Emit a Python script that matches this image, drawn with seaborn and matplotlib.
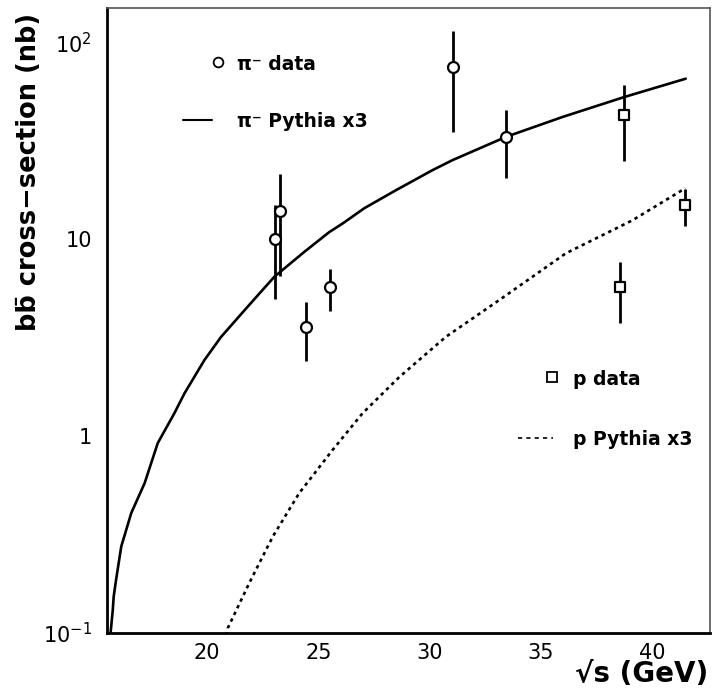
import numpy as np
import pandas as pd
import matplotlib
matplotlib.use("Agg")
import matplotlib.pyplot as plt
import matplotlib.ticker as mticker
import seaborn as sns

# ---------------- data ----------------
pi_x = [23.04, 23.26, 24.45, 25.54, 31.05, 33.45]
pi_y = [10.0, 14.0, 3.6, 5.7, 75.0, 33.0]
pi_lo = [5.0, 7.5, 1.2, 1.37, 40.0, 12.5]
pi_hi = [5.0, 7.5, 1.2, 1.37, 40.0, 12.5]

p_x = [38.75, 38.55, 41.46]
p_y = [43.0, 5.7, 15.0]
p_lo = [18.0, 1.95, 3.3]
p_hi = [18.0, 1.95, 3.1]

pi_curve_x = [15.64, 15.66, 15.76, 15.80, 15.91, 16.14, 16.59, 17.19, 17.78,
              18.53, 18.98, 19.88, 20.63, 21.82, 23.02, 24.37, 25.49, 26.09,
              27.06, 28.49, 30.13, 31.03, 33.43, 35.97, 38.74, 41.51]
pi_curve_y = [0.09, 0.10, 0.131, 0.153, 0.187, 0.275, 0.407, 0.577, 0.922,
              1.31, 1.65, 2.44, 3.20, 4.55, 6.46, 8.65, 10.9, 12.05,
              14.4, 17.8, 22.5, 25.3, 33.2, 41.9, 52.9, 65.6]

p_curve_x = [20.88, 20.93, 21.9, 22.95, 24.14, 25.64, 26.99, 28.64, 30.73,
             33.13, 36.12, 39.11, 41.49]
p_curve_y = [0.097, 0.106, 0.18, 0.309, 0.514, 0.852, 1.31, 2.0, 3.2,
             4.92, 8.5, 12.5, 18.2]

y_ticks = [0.1, 1, 10, 100]
y_tick_labels = [r"$10^{-1}$", "1", "10", r"$10^{2}$"]
x_ticks = [20, 25, 30, 35, 40]

# ---------------- figure ----------------
sns.set_style("white")
plt.rcParams['font.family'] = ['DejaVu Sans']
plt.rcParams['mathtext.fontset'] = 'dejavusans'
for k in ["text.color", "axes.labelcolor", "xtick.color", "ytick.color",
          "xtick.labelcolor", "ytick.labelcolor"]:
    plt.rcParams[k] = "black"

W, H = 713, 693
fig = plt.figure(figsize=(W / 100, H / 100), dpi=100)
L, R, T, B = 107, 710, 8, 633
ax = fig.add_axes([L / W, 1 - B / H, (R - L) / W, (B - T) / H])

df_pi = pd.DataFrame({"x": pi_curve_x, "y": pi_curve_y})
df_p = pd.DataFrame({"x": p_curve_x, "y": p_curve_y})
sns.lineplot(data=df_pi, x="x", y="y", ax=ax, color="black", lw=1.9,
             sort=False, estimator=None)
sns.lineplot(data=df_p, x="x", y="y", ax=ax, color="black", lw=1.9,
             sort=False, estimator=None, linestyle=(0, (1.3, 1.5)))

ax.errorbar(pi_x, pi_y, yerr=[pi_lo, pi_hi], fmt="none", ecolor="black",
            elinewidth=2.0, capsize=0, zorder=3)
ax.errorbar(p_x, p_y, yerr=[p_lo, p_hi], fmt="none", ecolor="black",
            elinewidth=2.0, capsize=0, zorder=3)
sns.scatterplot(x=pi_x, y=pi_y, ax=ax, marker="o", s=62, facecolor="white",
                edgecolor="black", linewidth=1.6, zorder=4)
sns.scatterplot(x=p_x, y=p_y, ax=ax, marker="s", s=62, facecolor="white",
                edgecolor="black", linewidth=1.6, zorder=4)

ax.set_yscale("log")
ax.set_xlim(15.5, 42.6)
ax.set_ylim(0.1, 150)
ax.set_yticks(y_ticks)
ax.set_yticklabels(y_tick_labels)
ax.yaxis.set_minor_locator(mticker.LogLocator(base=10, subs=np.arange(2, 10)))
ax.yaxis.set_minor_formatter(mticker.NullFormatter())
ax.set_xticks(x_ticks)
ax.set_xticklabels([str(v) for v in x_ticks])
ax.xaxis.set_minor_locator(mticker.MultipleLocator(1))

ax.tick_params(axis="both", which="major", direction="in", length=11,
               width=1.2, labelsize=15, color="black", labelcolor="black",
               top=False, right=False)
ax.tick_params(axis="both", which="minor", direction="in", length=6,
               width=1.0, color="black", top=False, right=False)
ax.tick_params(axis="y", which="major", pad=11)
ax.tick_params(axis="x", which="major", pad=7)

for s in ["left", "bottom"]:
    ax.spines[s].set_color("black")
    ax.spines[s].set_linewidth(2.0)
for s in ["top", "right"]:
    ax.spines[s].set_color("#555555")
    ax.spines[s].set_linewidth(1.2)

ax.set_xlabel("")
ax.set_ylabel("")

# axis titles
fig.text(29 / W, 1 - 172 / H, "bb\u0304 cross\u2212section (nb)", rotation=90,
         ha="center", va="center", fontsize=18.5, fontweight="bold")
fig.text(708 / W, 1 - 674 / H, "\u221as (GeV)", ha="right", va="center",
         fontsize=20, fontweight="bold")

# legend (manual, in pixel positions)
def px(xp, yp):
    return ((xp - L) / (R - L), (B - yp) / (B - T))

ax.plot(*px(218, 62), marker="o", ms=7, mfc="white", mec="black", mew=1.3,
        transform=ax.transAxes, clip_on=False)
ax.text(*px(237, 64), "\u03c0\u207b data", transform=ax.transAxes,
        fontsize=13.5, fontweight="bold", va="center", ha="left")
x0, y0 = px(183, 120)
x1, _ = px(212, 120)
ax.plot([x0, x1], [y0, y0], color="black", lw=1.5, transform=ax.transAxes)
ax.text(*px(237, 121), "\u03c0\u207b Pythia x3", transform=ax.transAxes,
        fontsize=13.5, fontweight="bold", va="center", ha="left")

ax.plot(*px(552, 377), marker="s", ms=7, mfc="white", mec="black", mew=1.3,
        transform=ax.transAxes, clip_on=False)
ax.text(*px(573, 379), "p data", transform=ax.transAxes,
        fontsize=13.5, fontweight="bold", va="center", ha="left")
x0, y0 = px(518, 438)
x1, _ = px(553, 438)
ax.plot([x0, x1], [y0, y0], color="black", lw=1.2, linestyle=(0, (2.5, 2.5)),
        transform=ax.transAxes)
ax.text(*px(573, 439), "p Pythia x3", transform=ax.transAxes,
        fontsize=13.5, fontweight="bold", va="center", ha="left")

fig.savefig("out.png", dpi=100)
